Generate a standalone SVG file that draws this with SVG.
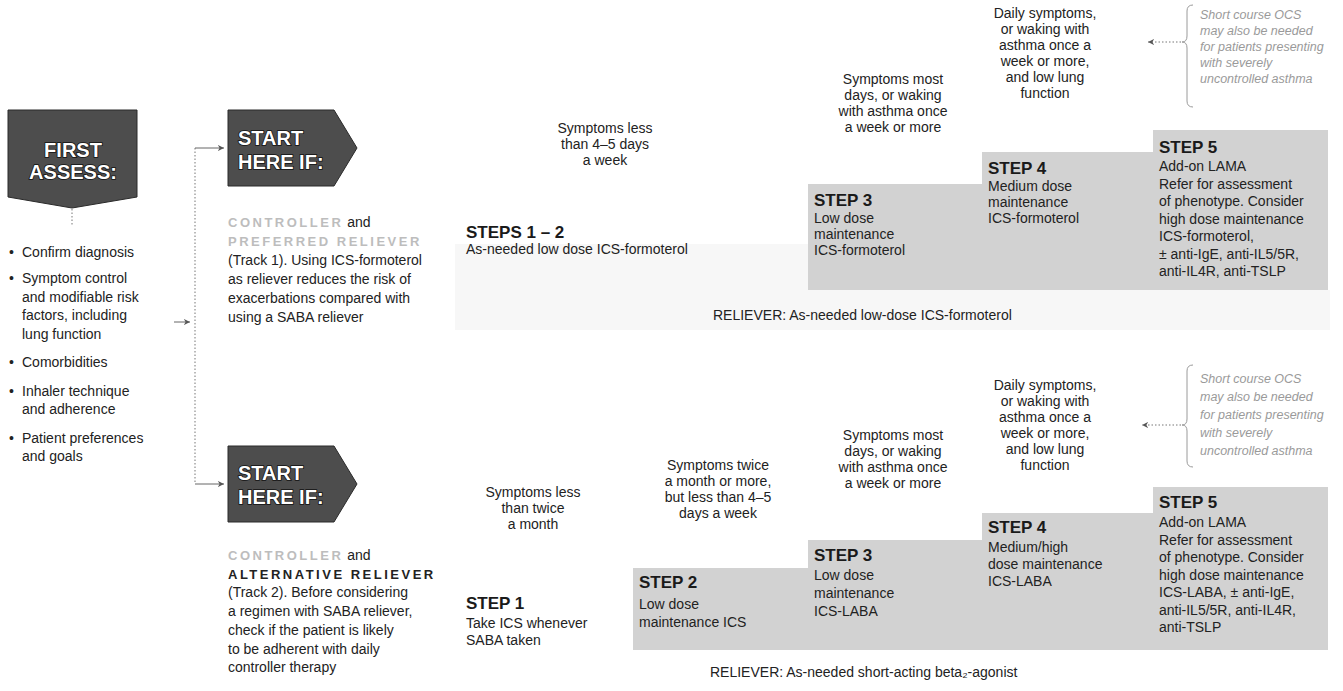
<svg xmlns="http://www.w3.org/2000/svg" width="1343" height="691" viewBox="0 0 1343 691">
<style>
.t{font-family:"Liberation Sans",Arial,sans-serif;font-size:14px;fill:#222}
.c{text-anchor:middle}
.lab{font-weight:bold;font-size:17px;fill:#1a1a1a}
.hd{font-family:"Liberation Sans",Arial,sans-serif;font-weight:bold;font-size:20px;fill:#fff;stroke:#111;stroke-width:1.6;paint-order:stroke}
.dark{fill:#4d4d4d;stroke:#2a2a2a;stroke-width:1}
.step{fill:#d2d2d2}
.faint{fill:#f7f7f7}
.note{font-style:italic;font-size:12.5px;fill:#9a9a9a}
.ctl{font-weight:bold;font-size:13px;letter-spacing:2.5px;fill:#bdbdbd}
.alt{font-weight:bold;font-size:13px;letter-spacing:2.5px;fill:#222}
.dot{fill:none;stroke:#777;stroke-width:1;stroke-dasharray:1.5 2}
.ln{fill:none;stroke:#666;stroke-width:1}
.brace{fill:none;stroke:#9a9a9a;stroke-width:1}
</style>
<defs>
<marker id="ah" viewBox="0 0 8 8" refX="7" refY="4" markerWidth="7" markerHeight="7" markerUnits="userSpaceOnUse" orient="auto">
<path d="M0,0.5 L7,4 L0,7.5 L2,4 Z" fill="#555"/>
</marker>
</defs>

<rect x="0" y="0" width="1343" height="691" fill="#fff"/>

<g id="first-assess">
<path class="dark" d="M8,110 H137 V197 L72,208 L8,197 Z"/>
<text class="hd c" x="73" y="157">FIRST</text>
<text class="hd c" x="73" y="179">ASSESS:</text>
</g>

<g id="assess-list" class="t">
<text x="9" y="257">•</text><text x="22" y="257">Confirm diagnosis</text>
<text x="9" y="283">•</text><text x="22" y="283">Symptom control</text>
<text x="22" y="301.5">and modifiable risk</text>
<text x="22" y="320">factors, including</text>
<text x="22" y="338.5">lung function</text>
<text x="9" y="367">•</text><text x="22" y="367">Comorbidities</text>
<text x="9" y="395.5">•</text><text x="22" y="395.5">Inhaler technique</text>
<text x="22" y="414">and adherence</text>
<text x="9" y="442.5">•</text><text x="22" y="442.5">Patient preferences</text>
<text x="22" y="461">and goals</text>
</g>

<g id="start-track1">
<path class="dark" d="M228,110 H334 L357,148 L334,186 H228 Z"/>
<text class="hd" x="238" y="145">START</text>
<text class="hd" x="238" y="169">HERE IF:</text>
</g>

<g id="track1-text" class="t">
<text x="228" y="227"><tspan class="ctl">CONTROLLER</tspan> and</text>
<text x="228" y="246" class="ctl">PREFERRED RELIEVER</text>
<text x="228" y="265">(Track 1). Using ICS-formoterol</text>
<text x="228" y="284">as reliever reduces the risk of</text>
<text x="228" y="303">exacerbations compared with</text>
<text x="228" y="322">using a SABA reliever</text>
</g>

<g id="start-track2">
<path class="dark" d="M228,446 H334 L357,484 L334,522 H228 Z"/>
<text class="hd" x="238" y="480">START</text>
<text class="hd" x="238" y="504">HERE IF:</text>
</g>

<g id="track2-text" class="t">
<text x="228" y="560"><tspan class="ctl">CONTROLLER</tspan> and</text>
<text x="228" y="578.7" class="alt">ALTERNATIVE RELIEVER</text>
<text x="228" y="597.4">(Track 2). Before considering</text>
<text x="228" y="616">a regimen with SABA reliever,</text>
<text x="228" y="634.8">check if the patient is likely</text>
<text x="228" y="653.5">to be adherent with daily</text>
<text x="228" y="672">controller therapy</text>
</g>

<g id="track1-background">
<path class="faint" d="M455,244 H808 V290 H1330 V330 H455 Z"/>
</g>

<g id="t1-symptoms" class="t c">
<text x="605" y="133">Symptoms less</text>
<text x="605" y="149">than 4–5 days</text>
<text x="605" y="165">a week</text>
<text x="893" y="84">Symptoms most</text>
<text x="893" y="100">days, or waking</text>
<text x="893" y="116">with asthma once</text>
<text x="893" y="132">a week or more</text>
<text x="1045" y="18">Daily symptoms,</text>
<text x="1045" y="34">or waking with</text>
<text x="1045" y="50">asthma once a</text>
<text x="1045" y="66">week or more,</text>
<text x="1045" y="82">and low lung</text>
<text x="1045" y="98">function</text>
</g>

<g id="t1-note" class="t note">
<text x="1200" y="19">Short course OCS</text>
<text x="1200" y="35">may also be needed</text>
<text x="1200" y="51">for patients presenting</text>
<text x="1200" y="67">with severely</text>
<text x="1200" y="83">uncontrolled asthma</text>
</g>

<g id="t1-steps12" class="t">
<text class="lab" x="466" y="238">STEPS 1 – 2</text>
<text x="466" y="254">As-needed low dose ICS-formoterol</text>
</g>

<g id="t1-step3" class="t">
<rect class="step" x="808" y="184" width="174" height="106"/>
<text class="lab" x="814" y="206">STEP 3</text>
<text x="814" y="223">Low dose</text>
<text x="814" y="239">maintenance</text>
<text x="814" y="255">ICS-formoterol</text>
</g>

<g id="t1-step4" class="t">
<rect class="step" x="982" y="152" width="171" height="138"/>
<text class="lab" x="988" y="174">STEP 4</text>
<text x="988" y="191">Medium dose</text>
<text x="988" y="207">maintenance</text>
<text x="988" y="223">ICS-formoterol</text>
</g>

<g id="t1-step5" class="t">
<rect class="step" x="1153" y="130" width="175" height="160"/>
<text class="lab" x="1159" y="153">STEP 5</text>
<text x="1159" y="171">Add-on LAMA</text>
<text x="1159" y="189">Refer for assessment</text>
<text x="1159" y="206">of phenotype. Consider</text>
<text x="1159" y="224">high dose maintenance</text>
<text x="1159" y="241">ICS-formoterol,</text>
<text x="1159" y="259">± anti-IgE, anti-IL5/5R,</text>
<text x="1159" y="276">anti-IL4R, anti-TSLP</text>
</g>

<g id="t1-reliever" class="t">
<text x="713" y="320">RELIEVER: As-needed low-dose ICS-formoterol</text>
</g>

<g id="t2-symptoms" class="t c">
<text x="533" y="497">Symptoms less</text>
<text x="533" y="513">than twice</text>
<text x="533" y="529">a month</text>
<text x="718" y="470">Symptoms twice</text>
<text x="718" y="486">a month or more,</text>
<text x="718" y="502">but less than 4–5</text>
<text x="718" y="518">days a week</text>
<text x="893" y="440">Symptoms most</text>
<text x="893" y="456">days, or waking</text>
<text x="893" y="472">with asthma once</text>
<text x="893" y="488">a week or more</text>
<text x="1045" y="390">Daily symptoms,</text>
<text x="1045" y="406">or waking with</text>
<text x="1045" y="422">asthma once a</text>
<text x="1045" y="438">week or more,</text>
<text x="1045" y="454">and low lung</text>
<text x="1045" y="470">function</text>
</g>

<g id="t2-note" class="t note">
<text x="1200" y="383">Short course OCS</text>
<text x="1200" y="401">may also be needed</text>
<text x="1200" y="419">for patients presenting</text>
<text x="1200" y="437">with severely</text>
<text x="1200" y="455">uncontrolled asthma</text>
</g>

<g id="t2-step1" class="t">
<text class="lab" x="466" y="609">STEP 1</text>
<text x="466" y="628">Take ICS whenever</text>
<text x="466" y="645">SABA taken</text>
</g>

<g id="t2-step2" class="t">
<rect class="step" x="633" y="568" width="175" height="82"/>
<text class="lab" x="639" y="588">STEP 2</text>
<text x="639" y="609">Low dose</text>
<text x="639" y="627">maintenance ICS</text>
</g>

<g id="t2-step3" class="t">
<rect class="step" x="808" y="540" width="174" height="110"/>
<text class="lab" x="814" y="561">STEP 3</text>
<text x="814" y="580">Low dose</text>
<text x="814" y="598">maintenance</text>
<text x="814" y="616">ICS-LABA</text>
</g>

<g id="t2-step4" class="t">
<rect class="step" x="982" y="513" width="171" height="137"/>
<text class="lab" x="988" y="533">STEP 4</text>
<text x="988" y="552">Medium/high</text>
<text x="988" y="569">dose maintenance</text>
<text x="988" y="586">ICS-LABA</text>
</g>

<g id="t2-step5" class="t">
<rect class="step" x="1153" y="487" width="175" height="163"/>
<text class="lab" x="1159" y="508">STEP 5</text>
<text x="1159" y="527">Add-on LAMA</text>
<text x="1159" y="545">Refer for assessment</text>
<text x="1159" y="562">of phenotype. Consider</text>
<text x="1159" y="580">high dose maintenance</text>
<text x="1159" y="597">ICS-LABA, ± anti-IgE,</text>
<text x="1159" y="615">anti-IL5/5R, anti-IL4R,</text>
<text x="1159" y="632">anti-TSLP</text>
</g>

<g id="t2-reliever" class="t">
<text x="710" y="677">RELIEVER: As-needed short-acting beta₂-agonist</text>
</g>

<g id="connectors">
<path class="dot" d="M72,209 V226"/>
<path class="dot" d="M195,148 V484"/>
<path class="ln" d="M195,148 H224" marker-end="url(#ah)"/>
<path class="ln" d="M195,484 H224" marker-end="url(#ah)"/>
<path class="ln" d="M174,322 H190" marker-end="url(#ah)"/>
<path class="brace" d="M1193,5 Q1187,5 1187,11 V36 Q1187,42 1182,42 Q1187,42 1187,48 V101 Q1187,107 1193,107"/>
<path class="dot" d="M1181,42 H1148" marker-end="url(#ah)"/>
<path class="brace" d="M1193,365 Q1187,365 1187,371 V419 Q1187,425 1182,425 Q1187,425 1187,431 V461 Q1187,467 1193,467"/>
<path class="dot" d="M1181,425 H1142" marker-end="url(#ah)"/>
</g>
</svg>
